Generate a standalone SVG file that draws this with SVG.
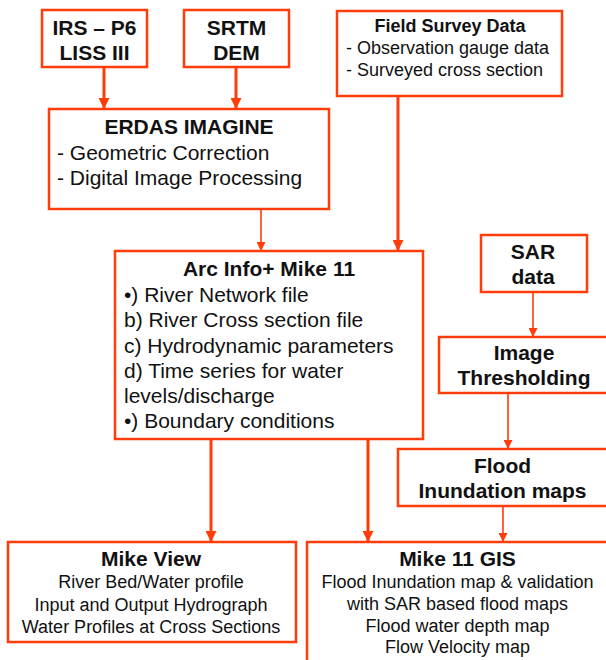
<svg xmlns="http://www.w3.org/2000/svg" width="606" height="660" viewBox="0 0 606 660">
<style>
.box{fill:#fff;stroke:#FF3C0A;stroke-width:2.5}
text{font-family:"Liberation Sans",Arial,sans-serif;fill:#111}
.t{font-weight:bold;font-size:21px}
.s{font-size:21px}
.m{font-size:18px}
.ft{font-weight:bold;font-size:18px}
.c{text-anchor:middle}
.thick{stroke:#FF3C0A;stroke-width:3;fill:none;marker-end:url(#ah)}
.thin{stroke:#FF3C0A;stroke-width:1.6;fill:none;marker-end:url(#ahs)}
</style>
<defs>
<marker id="ah" markerUnits="userSpaceOnUse" markerWidth="11" markerHeight="11" refX="11" refY="5.5" orient="auto"><path d="M0,0 L11,5.5 L0,11 z" fill="#FF3C0A"/></marker>
<marker id="ahs" markerUnits="userSpaceOnUse" markerWidth="9" markerHeight="9" refX="9" refY="4.5" orient="auto"><path d="M0,0 L9,4.5 L0,9 z" fill="#FF3C0A"/></marker>
</defs>
<rect width="606" height="660" fill="#fff"/>
<g id="connectors">
<line class="thick" x1="104" y1="67" x2="104" y2="109"/>
<line class="thick" x1="236" y1="67" x2="236" y2="109"/>
<line class="thin" x1="261" y1="209" x2="261" y2="251"/>
<line class="thick" x1="398" y1="96" x2="398" y2="251"/>
<line class="thin" x1="533" y1="292" x2="533" y2="337"/>
<line class="thin" x1="508" y1="393" x2="508" y2="449"/>
<line class="thin" x1="503" y1="506" x2="503" y2="542"/>
<line class="thick" x1="211" y1="439" x2="211" y2="542"/>
<line class="thick" x1="368" y1="439" x2="368" y2="542"/>
</g>
<g id="irs">
<rect class="box" x="42" y="10" width="105" height="57"/>
<text class="t c" x="94.5" y="35">IRS – P6</text>
<text class="t c" x="94.5" y="60">LISS III</text>
</g>
<g id="srtm">
<rect class="box" x="184" y="10" width="105" height="57"/>
<text class="t c" x="236.5" y="35">SRTM</text>
<text class="t c" x="236.5" y="60">DEM</text>
</g>
<g id="field">
<rect class="box" x="337" y="11" width="225" height="85"/>
<text class="ft c" x="450" y="32">Field Survey Data</text>
<text class="m" x="346" y="54">- Observation gauge data</text>
<text class="m" x="346" y="76">- Surveyed cross section</text>
</g>
<g id="erdas">
<rect class="box" x="49" y="109" width="280" height="100"/>
<text class="t c" x="189" y="134">ERDAS IMAGINE</text>
<text class="s" x="57" y="160">- Geometric Correction</text>
<text class="s" x="57" y="185">- Digital Image Processing</text>
</g>
<g id="arc">
<rect class="box" x="115" y="251" width="308" height="188"/>
<text class="t c" x="269" y="276">Arc Info+ Mike 11</text>
<text class="s" x="124" y="302">•) River Network file</text>
<text class="s" x="124" y="327">b) River Cross section file</text>
<text class="s" x="124" y="353">c) Hydrodynamic parameters</text>
<text class="s" x="124" y="378">d) Time series for water</text>
<text class="s" x="124" y="403">levels/discharge</text>
<text class="s" x="124" y="428">•) Boundary conditions</text>
</g>
<g id="sar">
<rect class="box" x="481" y="235" width="106" height="57"/>
<text class="t c" x="533" y="259">SAR</text>
<text class="t c" x="533" y="284">data</text>
</g>
<g id="threshold">
<rect class="box" x="439" y="337" width="180" height="56"/>
<text class="t c" x="524" y="360">Image</text>
<text class="t c" x="524" y="385">Thresholding</text>
</g>
<g id="flood">
<rect class="box" x="398" y="449" width="220" height="57"/>
<text class="t c" x="502.5" y="473">Flood</text>
<text class="t c" x="502.5" y="498">Inundation maps</text>
</g>
<g id="mikeview">
<rect class="box" x="8" y="542" width="288" height="100"/>
<text class="t c" x="151" y="566">Mike View</text>
<text class="m c" x="151" y="588">River Bed/Water profile</text>
<text class="m c" x="151" y="611">Input and Output Hydrograph</text>
<text class="m c" x="151" y="633">Water Profiles at Cross Sections</text>
</g>
<g id="mike11gis">
<rect class="box" x="307" y="542" width="310" height="119.5"/>
<text class="t c" x="457.5" y="566">Mike 11 GIS</text>
<text class="m c" x="457.5" y="588">Flood Inundation map &amp; validation</text>
<text class="m c" x="457.5" y="610">with SAR based flood maps</text>
<text class="m c" x="457.5" y="632">Flood water depth map</text>
<text class="m c" x="457.5" y="653">Flow Velocity map</text>
</g>
</svg>
